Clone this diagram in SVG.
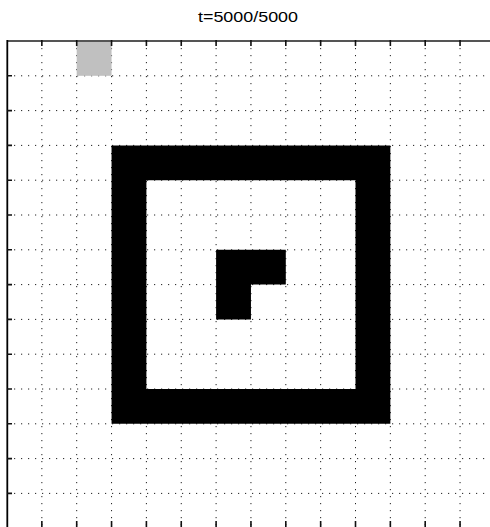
<svg xmlns="http://www.w3.org/2000/svg" width="490" height="527" viewBox="0 0 490 527">
<style>
.grid{stroke:#222;stroke-width:1;stroke-dasharray:1.2 5.8;fill:none}
.tick{stroke:#111;stroke-width:1.6}
.blk{fill:#000}
.title{font-family:"Liberation Sans",Arial,sans-serif;font-size:14px;fill:#000}
</style>
<rect width="490" height="527" fill="#fff"/>
<g id="grid">
<path class="grid" d="M41.85 41V527M76.7 41V527M111.55 41V527M146.4 41V527M181.25 41V527M216.1 41V527M250.95 41V527M285.8 41V527M320.65 41V527M355.5 41V527M390.35 41V527M425.2 41V527M460.05 41V527"/>
<path class="grid" d="M7 75.8H490M7 110.6H490M7 145.4H490M7 180.2H490M7 215H490M7 249.8H490M7 284.6H490M7 319.4H490M7 354.2H490M7 389H490M7 423.8H490M7 458.6H490M7 493.4H490"/>
</g>
<g id="cells">
<rect x="76.7" y="41" width="34.85" height="34.8" fill="#c0c0c0"/>
<path class="blk" fill-rule="evenodd" d="M111.55 145.4H390.35V423.8H111.55ZM146.4 180.2V389H355.5V180.2Z"/>
<path class="blk" d="M216.1 249.8H285.8V284.6H250.95V319.4H216.1Z"/>
</g>
<g id="axes">
<line x1="7" y1="41" x2="490" y2="41" stroke="#555" stroke-width="2"/>
<line x1="7.3" y1="40" x2="7.3" y2="527" stroke="#000" stroke-width="1.8"/>
<path class="tick" d="M41.85 40V46M76.7 40V46M111.55 40V46M146.4 40V46M181.25 40V46M216.1 40V46M250.95 40V46M285.8 40V46M320.65 40V46M355.5 40V46M390.35 40V46M425.2 40V46M460.05 40V46"/>
<path class="tick" d="M41.85 521V527M76.7 521V527M111.55 521V527M146.4 521V527M181.25 521V527M216.1 521V527M250.95 521V527M285.8 521V527M320.65 521V527M355.5 521V527M390.35 521V527M425.2 521V527M460.05 521V527"/>
<path class="tick" d="M7 75.8H12M7 110.6H12M7 145.4H12M7 180.2H12M7 215H12M7 249.8H12M7 284.6H12M7 319.4H12M7 354.2H12M7 389H12M7 423.8H12M7 458.6H12M7 493.4H12"/>
</g>
<text class="title" x="248" y="22" text-anchor="middle" textLength="100" lengthAdjust="spacingAndGlyphs">t=5000/5000</text>
</svg>
